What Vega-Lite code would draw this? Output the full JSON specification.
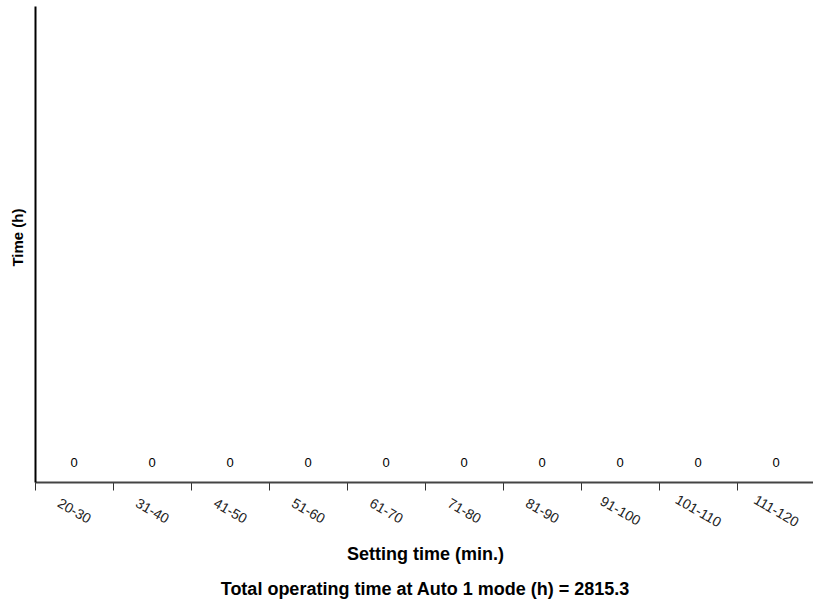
{
  "$schema": "https://vega.github.io/schema/vega-lite/v6.json",
  "autosize": {"type": "none"},
  "width": 780,
  "height": 476,
  "padding": {"left": 35, "top": 6, "right": 0, "bottom": 121},
  "background": "white",
  "config": {"view": {"stroke": null}, "font": "Liberation Sans"},
  "title": {
    "text": "Total operating time at Auto 1 mode (h) = 2815.3",
    "orient": "bottom",
    "anchor": "middle",
    "fontSize": 18,
    "fontWeight": "bold",
    "font": "Liberation Sans",
    "color": "black",
    "offset": 17
  },
  "data": {
    "values": [
      {"range": "20-30", "hours": 0},
      {"range": "31-40", "hours": 0},
      {"range": "41-50", "hours": 0},
      {"range": "51-60", "hours": 0},
      {"range": "61-70", "hours": 0},
      {"range": "71-80", "hours": 0},
      {"range": "81-90", "hours": 0},
      {"range": "91-100", "hours": 0},
      {"range": "101-110", "hours": 0},
      {"range": "111-120", "hours": 0}
    ]
  },
  "encoding": {
    "x": {
      "field": "range",
      "type": "nominal",
      "sort": null,
      "scale": {"paddingInner": 0, "paddingOuter": 0},
      "axis": {
        "title": "Setting time (min.)",
        "titleFontSize": 18,
        "titleFontWeight": "bold",
        "titleColor": "black",
        "titlePadding": 16,
        "labelAngle": 30,
        "labelAlign": "center",
        "labelBaseline": "middle",
        "labelPadding": 21,
        "labelFontSize": 14,
        "labelColor": "#222",
        "bandPosition": 0,
        "tickSize": 8,
        "tickColor": "#333",
        "domainColor": "#444",
        "domainWidth": 2,
        "grid": false
      }
    },
    "y": {
      "field": "hours",
      "type": "quantitative",
      "scale": {"domain": [0, 1]},
      "axis": {
        "title": "Time (h)",
        "titleFontSize": 15,
        "titleFontWeight": "bold",
        "titleColor": "black",
        "titlePadding": 10,
        "titleY": 231,
        "labels": false,
        "ticks": false,
        "grid": false,
        "domainColor": "black",
        "domainWidth": 2
      }
    }
  },
  "layer": [
    {"mark": {"type": "bar", "color": "#4472c4", "width": {"band": 0.9}}},
    {"mark": {"type": "text", "dy": -19, "fontSize": 13, "color": "black", "fill": "black"}, "encoding": {"text": {"field": "hours", "type": "quantitative"}}}
  ]
}
